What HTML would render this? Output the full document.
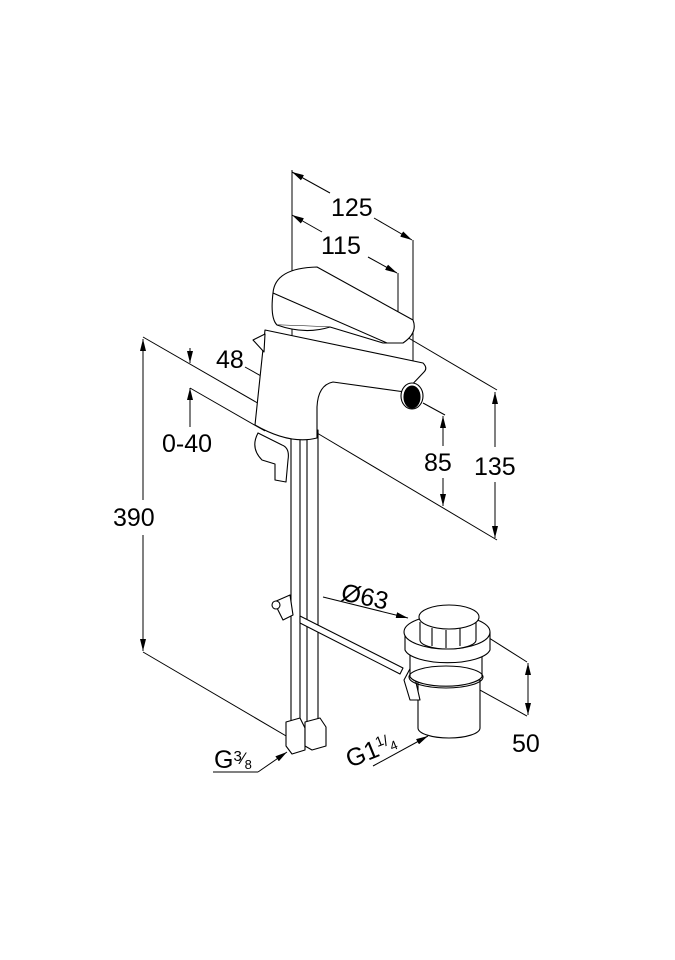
<!DOCTYPE html>
<html><head><meta charset="utf-8"><style>
html,body{margin:0;padding:0;background:#fff;}
svg{display:block;}
text{font-family:"Liberation Sans",sans-serif;fill:#000;}
</style></head><body>
<svg width="675" height="960" viewBox="0 0 675 960" xmlns="http://www.w3.org/2000/svg">
<defs>
<marker id="a" viewBox="0 0 12 6" refX="12" refY="3" markerWidth="12" markerHeight="6" orient="auto-start-reverse" markerUnits="userSpaceOnUse"><path d="M0,0 L12,3 L0,6 z" fill="#000"/></marker>
</defs>
<g stroke="#000" stroke-width="1" fill="none">
<line x1="292" y1="170" x2="292" y2="400"/>
<line x1="413" y1="240" x2="413" y2="372"/>
<line x1="398" y1="273" x2="398" y2="330"/>
<line x1="292" y1="172" x2="330" y2="193" marker-start="url(#a)"/>
<line x1="374" y1="218" x2="412" y2="240" marker-end="url(#a)"/>
<line x1="292" y1="215" x2="322" y2="232" marker-start="url(#a)"/>
<line x1="368" y1="257" x2="397" y2="273" marker-end="url(#a)"/>
<line x1="383" y1="323" x2="497" y2="390"/>
<line x1="317" y1="433" x2="497" y2="540"/>
<line x1="495" y1="392" x2="495" y2="447" marker-start="url(#a)"/>
<line x1="495" y1="482" x2="495" y2="538" marker-end="url(#a)"/>
<line x1="423" y1="403" x2="445" y2="415"/>
<line x1="443" y1="416" x2="443" y2="446" marker-start="url(#a)"/>
<line x1="443" y1="478" x2="443" y2="506" marker-end="url(#a)"/>
<line x1="143" y1="337" x2="268" y2="409"/>
<line x1="268" y1="409" x2="268" y2="388"/>
<line x1="190" y1="388" x2="265" y2="431"/>
<line x1="143" y1="652" x2="293" y2="740"/>
<line x1="143" y1="339" x2="143" y2="500" marker-start="url(#a)"/>
<line x1="143" y1="535" x2="143" y2="651" marker-end="url(#a)"/>
<line x1="190" y1="348" x2="190" y2="363" marker-end="url(#a)"/>
<line x1="190" y1="388" x2="190" y2="427" marker-start="url(#a)"/>
<line x1="245" y1="367" x2="313" y2="405"/>
<line x1="268" y1="380" x2="284" y2="389" marker-start="url(#a)"/>
<line x1="296" y1="396" x2="313" y2="405" marker-end="url(#a)"/>
<line x1="323" y1="597" x2="408" y2="618" marker-end="url(#a)"/>
<line x1="448" y1="612" x2="527" y2="662"/>
<line x1="480" y1="690" x2="527" y2="716"/>
<line x1="528" y1="663" x2="528" y2="715" marker-start="url(#a)" marker-end="url(#a)"/>
<line x1="213" y1="772" x2="258" y2="772"/>
<line x1="258" y1="772" x2="287" y2="752" marker-end="url(#a)"/>
<line x1="373" y1="766" x2="428" y2="736" marker-end="url(#a)"/>
</g>
<g stroke="#000" stroke-width="1.1" fill="#fff" stroke-linejoin="round">
<rect x="291" y="430" width="9" height="292"/>
<rect x="307" y="430" width="11" height="292"/>
<path d="M286,722 L300,718 L305,728 L305,750 L292,754 L286,746 z"/>
<path d="M305,722 L320,718 L326,727 L326,746 L312,750 L305,746 z"/>
<path d="M300,616 L403,668 L400,674 L300,623 z"/>
<path d="M274,602 L290,595 L293,615 L283,620 z"/>
<circle cx="276" cy="605" r="4"/>
<path d="M265,330 L423,363 Q428,368 424,372 L405,392 L333,382 Q318,385 317,407 L317,438 Q290,445 255,425 Z"/>
<path d="M253,340 L265,334 L264,352 Z"/>
<path d="M258,433 Q250,448 262,460 L275,464 L275,480 L286,482 L288,460 Q290,448 282,445 Z"/>
<path d="M273,293 Q275,268 317,267 L413,320 Q418,333 403,343 L383,343 L330,327 L277,325 Q270,318 273,293 Z"/>
<path d="M273,293 L387,343"/>
<path d="M277,325 Q305,335 330,327"/>
<ellipse cx="412" cy="396" rx="11" ry="13"/>
<ellipse cx="412" cy="397" rx="8" ry="11" fill="#000"/>
<!-- drain -->
<path d="M418,680 L418,728 A31 10 0 0 0 480,728 L480,680 Z"/>
<path d="M404,680 L412,665 L420,700 L410,700 Z"/>
<path d="M410,655 L410,677 A37 12 0 0 0 482,677 L482,655 Z"/>
<ellipse cx="446" cy="677" rx="37" ry="11" fill="none"/>
<path d="M405,632 L405,650 A43 15 0 0 0 490,650 L490,632"/>
<ellipse cx="447" cy="632" rx="43" ry="17"/>
<path d="M420,622 L420,640 A28 9 0 0 0 476,640 L476,622"/>
<line x1="432" y1="628" x2="432" y2="646"/><line x1="446" y1="630" x2="446" y2="648"/><line x1="460" y1="628" x2="460" y2="646"/>
<ellipse cx="449" cy="617" rx="30" ry="12"/>
</g>
<g font-size="25">
<text x="331" y="216">125</text>
<text x="321" y="254">115</text>
<text x="216" y="368">48</text>
<text x="162" y="452">0-40</text>
<text x="424" y="471">85</text>
<text x="474" y="475">135</text>
<text x="113" y="526">390</text>
<text x="512" y="752">50</text>
<text x="340" y="600" transform="rotate(12 340 600)">Ø63</text>
<text x="214" y="768">G<tspan font-size="15" dy="-7">3</tspan><tspan font-size="17" dy="3">⁄</tspan><tspan font-size="13" dy="5">8</tspan></text>
<text x="350" y="768" transform="rotate(-22 350 768)">G1<tspan font-size="14" dy="-9">1</tspan><tspan font-size="15" dy="2">/</tspan><tspan font-size="13" dy="7">4</tspan></text>
</g>
</svg>
</body></html>
